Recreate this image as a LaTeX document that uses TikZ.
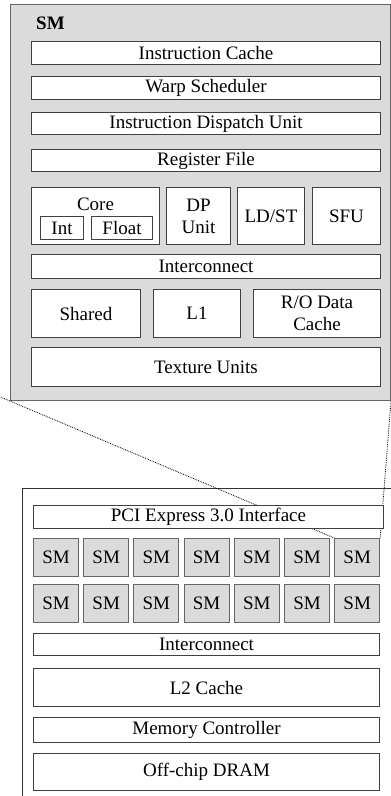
\documentclass[tikz,border=0pt]{standalone}
\usepackage{fontspec}
\setmainfont{Liberation Serif}
\usetikzlibrary{positioning}
\definecolor{smgray}{gray}{0.86}
\tikzset{
  unit/.style={draw=black!75, fill=white, line width=1pt, inner sep=0pt, anchor=north west, align=center, font=\fontsize{19}{22}\selectfont},
  smunit/.style={unit, fill=smgray, draw=black!60},
  plaintext/.style={inner sep=0pt, font=\fontsize{19}{22}\selectfont},
  zoomline/.style={densely dotted, line width=0.8pt}
}

\begin{document}
\begin{tikzpicture}[x=1pt, y=-1pt]
\useasboundingbox (0,0) rectangle (391,796);

% the SM, enlarged
\node[smunit, minimum width=380pt, minimum height=396pt] (sm) at (10,4) {};
\node[plaintext, anchor=north west, font=\fontsize{19}{22}\selectfont\bfseries] (smtitle) at (36,17) {SM};
\node[unit, minimum width=349pt, minimum height=23pt] (icache) at (31,41) {Instruction Cache};
\node[unit, minimum width=349pt, minimum height=23pt] (warp) at (31,76) {Warp Scheduler};
\node[unit, minimum width=349pt, minimum height=22pt] (dispatch) at (31,112) {Instruction Dispatch Unit};
\node[unit, minimum width=349pt, minimum height=22pt] (regfile) at (31,149) {Register File};

\node[unit, minimum width=128pt, minimum height=57pt] (core) at (31,187) {};
\node[plaintext, below=11pt of core.north] (corelabel) {Core};
\node[unit, minimum width=43pt, minimum height=23pt] (int) at (40,216) {Int};
\node[unit, minimum width=61pt, minimum height=23pt] (float) at (91,216) {Float};
\node[unit, minimum width=64pt, minimum height=57pt] (dp) at (166,187) {DP\\Unit};
\node[unit, minimum width=67pt, minimum height=57pt] (ldst) at (237,187) {LD/ST};
\node[unit, minimum width=68pt, minimum height=57pt] (sfu) at (312,187) {SFU};

\node[unit, minimum width=349pt, minimum height=24pt] (smnet) at (31,254) {Interconnect};
\node[unit, minimum width=109pt, minimum height=48pt] (shared) at (31,289) {Shared};
\node[unit, minimum width=87pt, minimum height=48pt] (lone) at (153,289) {L1};
\node[unit, minimum width=127pt, minimum height=48pt] (rocache) at (253,289) {R/O Data\\Cache};
\node[unit, minimum width=349pt, minimum height=39pt] (texture) at (31,347) {Texture Units};

% the whole GPU
\node[unit, draw=black!80, minimum width=380pt, minimum height=320pt] (gpu) at (22,488) {};
\foreach \i in {1,...,7} {
  \node[smunit, minimum width=45pt, minimum height=38pt] (sma\i) at ({33+(\i-1)*50.2},538) {SM};
  \node[smunit, minimum width=45pt, minimum height=38pt] (smb\i) at ({33+(\i-1)*50.2},584) {SM};
}
\draw[zoomline, shorten <=-10pt] (sm.south west) -- (sma7.north west);
\draw[zoomline] (sm.south east) -- (sma7.north east);

\node[unit, minimum width=350pt, minimum height=23pt] (pcie) at (33,505) {PCI Express 3.0 Interface};
\node[unit, minimum width=346pt, minimum height=22pt] (gpunet) at (33,633) {Interconnect};
\node[unit, minimum width=346pt, minimum height=38pt] (ltwo) at (33,668) {L2 Cache};
\node[unit, minimum width=346pt, minimum height=25pt] (memctl) at (33,717) {Memory Controller};
\node[unit, minimum width=346pt, minimum height=37pt] (dram) at (33,753) {Off-chip DRAM};
\end{tikzpicture}
\end{document}
